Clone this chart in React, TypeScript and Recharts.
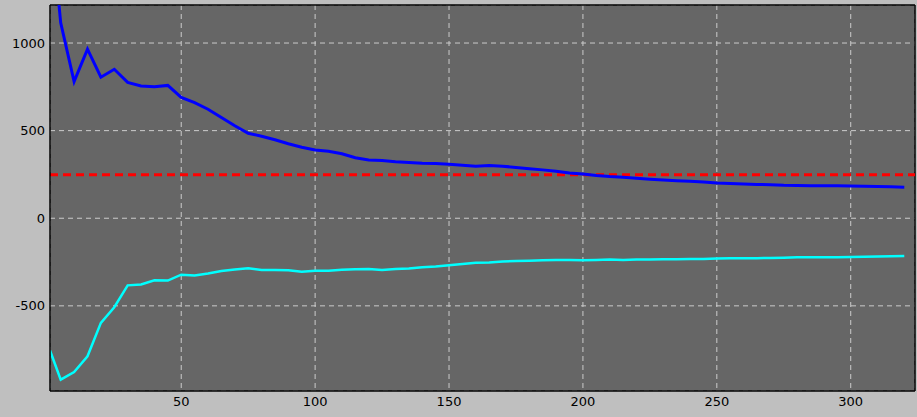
import { CartesianGrid, Line, LineChart, ReferenceLine, XAxis, YAxis } from "recharts"

// x positions of the samples
const steps = [
  1, 5, 10, 15, 20, 25, 30, 35, 40, 45, 50, 55, 60, 65, 70, 75, 80, 85, 90, 95,
  100, 105, 110, 115, 120, 125, 130, 135, 140, 145, 150, 155, 160, 165, 170, 175,
  180, 185, 190, 195, 200, 205, 210, 215, 220, 225, 230, 235, 240, 245, 250, 255,
  260, 265, 270, 275, 280, 285, 290, 295, 300, 305, 310, 315, 320,
]

const upper = [
  1750, 1115, 780, 965, 805, 850, 775, 755, 750, 758, 690, 660, 622, 575, 528, 485, 468, 448, 425, 405,
  390, 382, 368, 345, 332, 330, 322, 318, 314, 312, 308, 303, 297, 301, 297, 290,
  283, 276, 268, 258, 252, 244, 238, 234, 228, 223, 218, 214, 211, 207, 201, 198,
  196, 193, 191, 188, 187, 185, 185, 185, 184, 183, 181, 179, 177,
]

const lower = [
  -755, -921, -878, -788, -597, -508, -383, -378, -354, -356, -322, -327, -315, -301, -292, -285, -296, -296, -297, -305,
  -300, -299, -294, -291, -290, -296, -290, -287, -280, -275, -268, -261, -254, -253, -247, -244,
  -242, -240, -238, -238, -240, -238, -235, -238, -236, -235, -234, -234, -233, -232, -230, -228,
  -229, -228, -227, -225, -223, -222, -222, -222, -221, -220, -218, -217, -215,
]

const threshold = 248

const xTicks = [50, 100, 150, 200, 250, 300]
const yTicks = [-500, 0, 500, 1000]

const data = steps.map((s, i) => ({ step: s, upper: upper[i], lower: lower[i] }))

const tickStyle = { fill: "#000", fontSize: 13, fontFamily: "DejaVu Sans" }

export default function App() {
  return (
    <div style={{ position: "absolute", left: 0, top: 0, width: 917, height: 417, background: "#bfbfbf" }}>
      <LineChart width={917} height={417} data={data} margin={{ top: 5, right: 2, left: 0, bottom: 0 }}>
        <CartesianGrid fill="#666666" stroke="#cccccc" strokeDasharray="5 4" />
        <XAxis
          dataKey="step"
          type="number"
          domain={[1, 324]}
          ticks={xTicks}
          allowDataOverflow
          height={26}
          tickLine={false}
          tickSize={4}
          axisLine={{ stroke: "#000", strokeWidth: 1.5 }}
          tick={tickStyle}
        />
        <YAxis
          type="number"
          domain={[-986, 1217]}
          ticks={yTicks}
          allowDataOverflow
          width={50}
          tickLine={false}
          tickSize={3}
          axisLine={{ stroke: "#000", strokeWidth: 1.5 }}
          tick={tickStyle}
        />
        <ReferenceLine y={1217} stroke="#000" strokeWidth={1.5} />
        <ReferenceLine x={324} stroke="#000" strokeWidth={1.5} />
        <ReferenceLine y={threshold} stroke="#ff0000" strokeWidth={3} strokeDasharray="8 5" />
        <Line type="linear" dataKey="upper" stroke="#0000ff" strokeWidth={3} dot={false} isAnimationActive={false} />
        <Line type="linear" dataKey="lower" stroke="#00ffff" strokeWidth={2.5} dot={false} isAnimationActive={false} />
      </LineChart>
    </div>
  )
}
